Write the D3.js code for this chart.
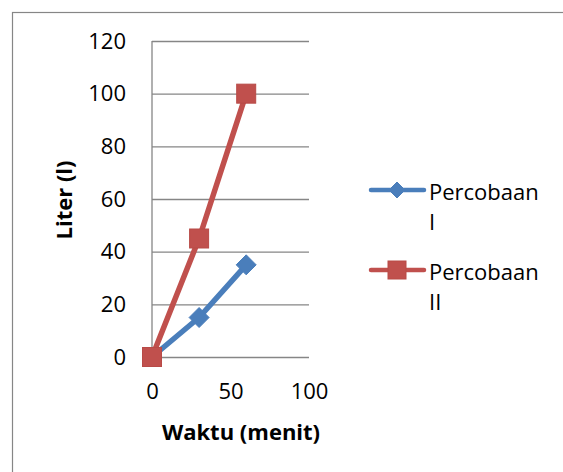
<!DOCTYPE html>
<html><head><meta charset="utf-8">
<script src="https://cdn.jsdelivr.net/npm/d3@7"></script>
<style>
html,body{margin:0;padding:0;background:#fff;}
svg{display:block;font-family:"Open Sans",sans-serif;}
</style></head>
<body><svg id="c" width="563" height="472"></svg>
<script>
const waktu = [0, 30, 60];
const percobaanI = [0, 15, 35];
const percobaanII = [0, 45, 100];
const seriesNames = ["Percobaan I", "Percobaan II"];
const seriesColors = ["#4A7EBB", "#C0504D"];
const yTicks = [0, 20, 40, 60, 80, 100, 120];
const xTicks = [0, 50, 100];

const svg = d3.select("#c");
const fs = 22;

// outer chart frame
svg.append("rect").attr("x", 12.5).attr("y", 12.5).attr("width", 620).attr("height", 520)
  .attr("fill", "none").attr("stroke", "#868686").attr("stroke-width", 1.2);

const x = d3.scaleLinear().domain([0, 100]).range([152, 309]);
const y = d3.scaleLinear().domain([0, 120]).range([357, 41]);

// y axis with gridlines
const gy = svg.append("g").attr("transform", `translate(${x(0)},0)`)
  .call(d3.axisLeft(y).tickValues(yTicks).tickSizeInner(-(x(100) - x(0))).tickSizeOuter(0).tickPadding(26));
gy.select(".domain").remove();
gy.selectAll(".tick line").attr("stroke", "#868686").attr("stroke-width", 1.3);
gy.selectAll(".tick text").attr("font-size", fs).attr("fill", "#000").attr("font-family", "Open Sans");

// y axis line
svg.append("line").attr("x1", x(0)).attr("x2", x(0)).attr("y1", y(0)).attr("y2", y(120))
  .attr("stroke", "#868686").attr("stroke-width", 1.3);

// x axis labels
const gx = svg.append("g").attr("transform", `translate(0,${y(0)})`)
  .call(d3.axisBottom(x).tickValues(xTicks).tickSize(0).tickPadding(26));
gx.select(".domain").remove();
gx.selectAll(".tick text").attr("font-size", fs).attr("fill", "#000").attr("font-family", "Open Sans");

// axis titles
svg.append("text").attr("x", 241).attr("y", 440).attr("text-anchor", "middle")
  .attr("font-size", fs).attr("font-weight", "bold").text("Waktu (menit)");
svg.append("text").attr("transform", "translate(72,200) rotate(-90)").attr("text-anchor", "middle")
  .attr("font-size", fs).attr("font-weight", "bold").text("Liter (l)");

const line = d3.line().x(d => x(d[0])).y(d => y(d[1]));
const data = [waktu.map((w, i) => [w, percobaanI[i]]), waktu.map((w, i) => [w, percobaanII[i]])];

function drawMarker(g, k, cx, cy, s) {
  if (k === 0) {
    g.append("path").attr("d", `M${cx},${cy - s}L${cx + s},${cy}L${cx},${cy + s}L${cx - s},${cy}Z`)
      .attr("fill", seriesColors[k]).attr("stroke", seriesColors[k]).attr("stroke-width", 1);
  } else {
    g.append("rect").attr("x", cx - s).attr("y", cy - s).attr("width", 2 * s).attr("height", 2 * s)
      .attr("fill", seriesColors[k]).attr("stroke", "#B84A47").attr("stroke-width", 1);
  }
}

data.forEach((d, k) => {
  const g = svg.append("g");
  g.append("path").attr("d", line(d)).attr("fill", "none").attr("stroke", seriesColors[k])
    .attr("stroke-width", 5.5).attr("stroke-linejoin", "round");
  d.forEach(p => drawMarker(g, k, x(p[0]), y(p[1]), k === 0 ? 10 : 9.5));
});

// legend
const legY = [190, 270];
seriesNames.forEach((name, k) => {
  const g = svg.append("g");
  g.append("line").attr("x1", 371).attr("x2", 424).attr("y1", legY[k]).attr("y2", legY[k])
    .attr("stroke", seriesColors[k]).attr("stroke-width", 4.5).attr("stroke-linecap", "round");
  drawMarker(g, k, 397, legY[k], k === 0 ? 8 : 9);
  const parts = name.split(" ");
  const t = g.append("text").attr("font-size", fs).attr("fill", "#000");
  t.append("tspan").attr("x", 429).attr("y", legY[k] + 10).text(parts[0]);
  t.append("tspan").attr("x", 429).attr("y", legY[k] + 40).text(parts[1]);
});
</script></body></html>
